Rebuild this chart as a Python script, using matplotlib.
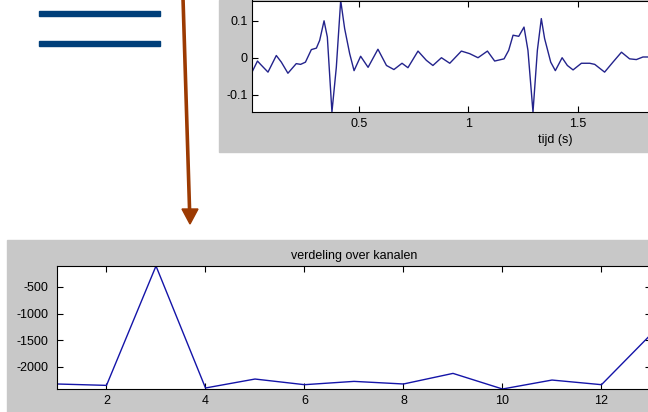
import numpy as np
import matplotlib
matplotlib.use('Agg')
import matplotlib.pyplot as plt
from matplotlib.patches import Rectangle, Polygon
from matplotlib.lines import Line2D

plt.rcParams['font.family'] = ['Liberation Sans', 'DejaVu Sans']
plt.rcParams['axes.unicode_minus'] = False

# signaal (bovenste grafiek)
tijd = [0.013, 0.038, 0.052, 0.086, 0.124, 0.147, 0.177, 0.215, 0.235, 0.257,
        0.284, 0.307, 0.322, 0.342, 0.357, 0.378, 0.398, 0.418, 0.436, 0.459,
        0.479, 0.509, 0.543, 0.588, 0.627, 0.661, 0.698, 0.725, 0.771, 0.809,
        0.839, 0.878, 0.916, 0.969, 1.007, 1.045, 1.088, 1.121, 1.164, 1.185,
        1.205, 1.231, 1.255, 1.273, 1.296, 1.316, 1.334, 1.349, 1.377, 1.398,
        1.429, 1.453, 1.479, 1.517, 1.555, 1.578, 1.623, 1.661, 1.700, 1.737,
        1.768, 1.798, 1.840]
signaal = [-0.039, -0.009, -0.018, -0.039, 0.006, -0.012, -0.042, -0.016, -0.018, -0.012,
           0.022, 0.026, 0.047, 0.100, 0.056, -0.147, -0.026, 0.155, 0.079, 0.011,
           -0.035, 0.004, -0.026, 0.023, -0.021, -0.032, -0.015, -0.027, 0.018, -0.007,
           -0.021, 0.000, -0.015, 0.018, 0.011, 0.000, 0.018, -0.009, -0.003, 0.020,
           0.061, 0.058, 0.083, 0.020, -0.147, 0.020, 0.106, 0.052, -0.012, -0.035,
           0.000, -0.021, -0.033, -0.015, -0.015, -0.018, -0.039, -0.012, 0.015, -0.003,
           -0.005, 0.002, 0.002]

# verdeling over kanalen (onderste grafiek)
kanalen = list(range(1, 14))
waarden = [-2322, -2348, -107, -2397, -2229, -2335, -2273, -2322, -2123, -2416,
           -2248, -2335, -1390]

W, H = 648, 412
grijs = '#c8c8c8'

def fx(x):
    return x / W

def fy(y):
    return 1 - y / H

fig = plt.figure(figsize=(W / 100, H / 100), dpi=100, facecolor='white')

# grijze achtergronden van de MATLAB-figuren
fig.add_artist(Rectangle((fx(219), fy(152)), fx(W - 219), 152 / H,
                         transform=fig.transFigure, color=grijs, zorder=-1))
fig.add_artist(Rectangle((fx(7), 0), fx(W - 7), (H - 240) / H,
                         transform=fig.transFigure, color=grijs, zorder=-1))

# gelijkteken
for yc in [13.5, 43.5]:
    fig.add_artist(Rectangle((fx(39), fy(yc + 2.5)), fx(121), 5 / H,
                             transform=fig.transFigure, color='#003f7a'))

# pijl
pijlkleur = '#9c3a02'
fig.add_artist(Line2D([fx(183), fx(189.6)], [fy(-2), fy(211)],
                      transform=fig.transFigure, color=pijlkleur, lw=2.6))
fig.add_artist(Polygon([[fx(182), fy(209)], [fx(198), fy(209)], [fx(190), fy(224)]],
                       closed=True, transform=fig.transFigure, color=pijlkleur))


def matlab_stijl(ax):
    ax.set_facecolor('white')
    for s in ax.spines.values():
        s.set_linewidth(0.8)
        s.set_color('black')
    ax.tick_params(direction='in', length=4, width=0.8, top=True, right=True,
                   labelsize=9, pad=4)


# bovenste grafiek
x0, x1 = 252, 858
ax1 = fig.add_axes([fx(x0), fy(112), (x1 - x0) / W, 111.5 / H])
ax1.plot(tijd, signaal, color='#23238c', lw=1.0)
ax1.set_xlim(0.013, 2.78)
ax1.set_ylim(min(signaal), max(signaal))
ax1.set_xticks([0.5, 1, 1.5])
ax1.set_xticklabels(['0.5', '1', '1.5'])
ax1.set_yticks([-0.1, 0, 0.1])
ax1.set_yticklabels(['-0.1', '0', '0.1'])
ax1.set_xlabel('tijd (s)', fontsize=9, labelpad=3)
matlab_stijl(ax1)
ax1.tick_params(axis='y', pad=3)

# onderste grafiek
ax2 = fig.add_axes([fx(57), fy(389), (651 - 57) / W, (389 - 266) / H])
ax2.plot(kanalen, waarden, color='#1414a8', lw=1.0)
ax2.set_xlim(1, 13)
ax2.set_ylim(min(waarden), max(waarden))
ax2.set_xticks([2, 4, 6, 8, 10, 12])
ax2.set_yticks([-2000, -1500, -1000, -500])
ax2.set_title('verdeling over kanalen', fontsize=9, pad=5)
matlab_stijl(ax2)
ax2.tick_params(axis='y', pad=6, labelright=False)

fig.savefig('out.png', dpi=100)
